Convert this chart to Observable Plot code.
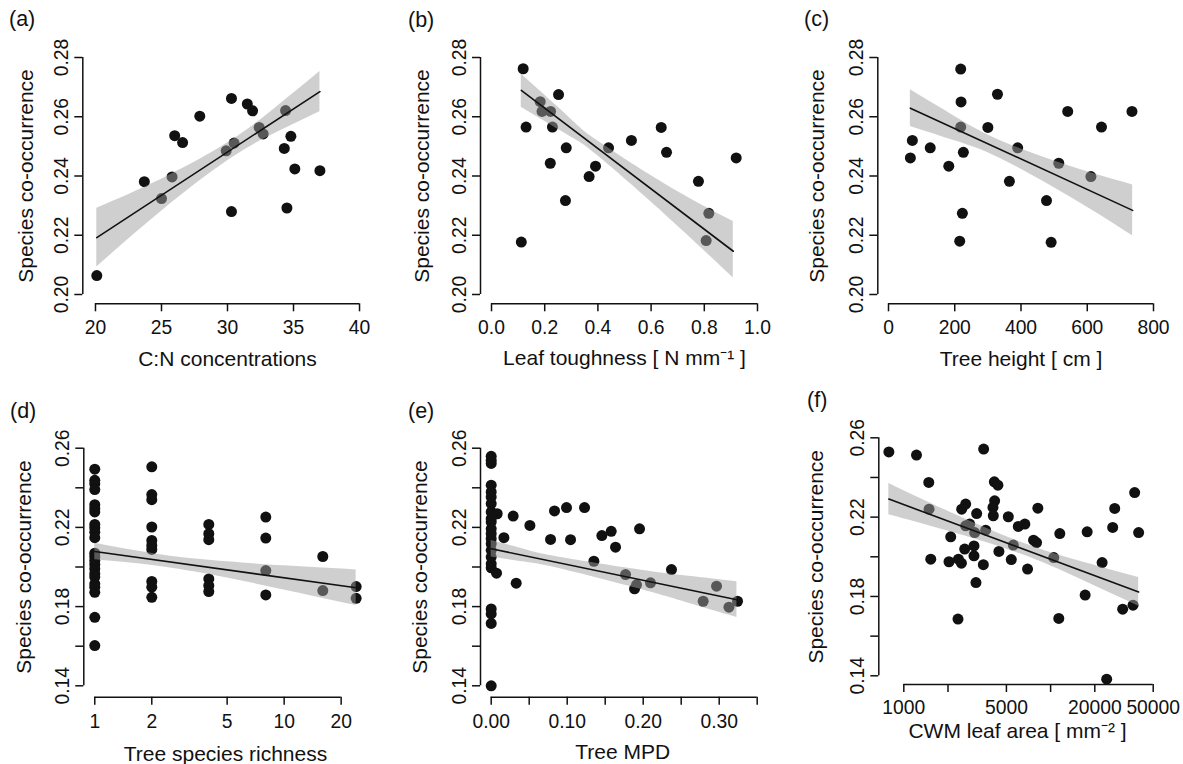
<!DOCTYPE html>
<html><head><meta charset="utf-8">
<script src="https://cdn.jsdelivr.net/npm/d3@7"></script>
<script src="https://cdn.jsdelivr.net/npm/@observablehq/plot@0.6"></script>
<style>
body{margin:0;background:#fff;}
#fig{position:relative;width:1183px;height:764px;background:#fff;font-family:"Liberation Sans",Arial,Helvetica,sans-serif;color:#111;overflow:hidden;}
.panel{position:absolute;}
.tag{position:absolute;font-size:21.5px;line-height:24px;white-space:nowrap;}
</style></head><body><div id="fig"></div>
<script>
// ---------- Panel (a): C:N concentrations ----------
const aX = [20.1, 23.7, 25.0, 25.8, 26.0, 26.6, 27.9, 29.9, 30.3, 30.3, 30.5, 31.5, 31.9, 32.4, 32.7, 34.4, 34.3, 34.8, 34.5, 35.1, 37.0];
const aY = [0.2064, 0.2381, 0.2324, 0.2397, 0.2536, 0.2513, 0.2602, 0.2485, 0.2662, 0.2280, 0.2511, 0.2643, 0.2620, 0.2564, 0.2542, 0.2621, 0.2493, 0.2534, 0.2292, 0.2424, 0.2418];
const aLineX = [20.1, 37.0], aLineY = [0.2192, 0.2685];
const aBandX = [20.1, 25, 30.2, 34, 37.0];
const aBandLo = [0.2093, 0.2281, 0.2457, 0.2553, 0.2617];
const aBandHi = [0.2291, 0.2389, 0.2517, 0.2643, 0.2753];

// ---------- Panel (b): Leaf toughness ----------
const bX = [0.119, 0.112, 0.130, 0.183, 0.190, 0.222, 0.229, 0.221, 0.252, 0.281, 0.278, 0.367, 0.391, 0.440, 0.526, 0.638, 0.658, 0.778, 0.817, 0.807, 0.920];
const bY = [0.2762, 0.2177, 0.2565, 0.2651, 0.2618, 0.2618, 0.2565, 0.2443, 0.2675, 0.2495, 0.2317, 0.2398, 0.2433, 0.2495, 0.2520, 0.2564, 0.2480, 0.2382, 0.2274, 0.2182, 0.2461];
const bLineX = [0.112, 0.909], bLineY = [0.2689, 0.2146];
const bBandX = [0.112, 0.30, 0.40, 0.65, 0.909];
const bBandLo = [0.2632, 0.2531, 0.2468, 0.2272, 0.2056];
const bBandHi = [0.2744, 0.2591, 0.2518, 0.2374, 0.2246];

// ---------- Panel (c): Tree height ----------
const cX = [218, 219, 329, 218, 300, 226, 72, 66, 126, 182, 390, 365, 514, 611, 541, 643, 735, 477, 223, 215, 491];
const cY = [0.2761, 0.2650, 0.2676, 0.2565, 0.2564, 0.2480, 0.2520, 0.2461, 0.2495, 0.2433, 0.2495, 0.2382, 0.2443, 0.2398, 0.2618, 0.2565, 0.2618, 0.2317, 0.2274, 0.2180, 0.2176];
const cLineX = [66, 737], cLineY = [0.2629, 0.2284];
const cBandX = [66, 200, 336, 550, 737];
const cBandLo = [0.2567, 0.2519, 0.2460, 0.2328, 0.2198];
const cBandHi = [0.2691, 0.2601, 0.2520, 0.2432, 0.2370];

// ---------- Panel (d): Tree species richness ----------
const dX = [1,1,1,1,1,1,1,1,1,1,1,1,1,1,1,1,1,1,1,1,1,1,1,
            2,2,2,2,2,2,2,2,2,2,
            4,4,4,4,4,4,
            8,8,8,8,
            16,16,
            24,24];
const dY = [0.2494, 0.2438, 0.2421, 0.2391, 0.2315, 0.2295, 0.2278, 0.2215, 0.2198, 0.2176, 0.2148, 0.2070, 0.2053, 0.2033, 0.2013, 0.1991, 0.1966, 0.1949, 0.1915, 0.1898, 0.1872, 0.1746, 0.1603,
            0.2506, 0.2366, 0.2340, 0.2202, 0.2134, 0.2109, 0.2089, 0.1927, 0.1898, 0.1847,
            0.2215, 0.2168, 0.2138, 0.1940, 0.1906, 0.1876,
            0.2252, 0.2146, 0.1982, 0.1859,
            0.2053, 0.1881,
            0.1901, 0.1842];
const dLineX = [1, 24], dLineY = [0.2078, 0.1895];
const dBandX = [1, 2.26, 5, 10, 24];
const dBandLo = [0.2036, 0.2001, 0.1944, 0.1884, 0.1805];
const dBandHi = [0.2120, 0.2061, 0.2026, 0.2006, 0.1985];

// ---------- Panel (e): Tree MPD ----------
const eX = [0,0,0,0,0,0,0,0,0,0,0,0,0,0,0,0,0,0,0,0,0,0,
            0.0079, 0.0070, 0.0167, 0.0289, 0.0329, 0.0509, 0.0781, 0.0833, 0.0991, 0.1044, 0.1228, 0.1351, 0.1456,
            0.1579, 0.1636, 0.1768, 0.1886, 0.1912, 0.1952, 0.2096, 0.2372, 0.2789, 0.2965, 0.3128, 0.3241];
const eY = [0.2559, 0.2539, 0.2523, 0.2413, 0.2379, 0.2353, 0.2320, 0.2278, 0.2244, 0.2227, 0.2193, 0.2168, 0.2143, 0.2117, 0.2084, 0.2050, 0.2016, 0.1996, 0.1788, 0.1763, 0.1715, 0.1400,
            0.2269, 0.1969, 0.2148, 0.2257, 0.1918, 0.2210, 0.2139, 0.2283, 0.2300, 0.2138, 0.2300, 0.2029, 0.2159,
            0.2180, 0.2100, 0.1962, 0.1890, 0.1910, 0.2193, 0.1920, 0.1987, 0.1827, 0.1903, 0.1797, 0.1827];
const eLineX = [0, 0.3233], eLineY = [0.2092, 0.1835];
const eBandX = [0, 0.04, 0.088, 0.2, 0.26, 0.3233];
const eBandLo = [0.2050, 0.2027, 0.1994, 0.1884, 0.1817, 0.1745];
const eBandHi = [0.2134, 0.2093, 0.2050, 0.1982, 0.1953, 0.1925];

// ---------- Panel (f): CWM leaf area ----------
const fX = [791, 1220, 3499, 1479, 4136, 4375, 37370, 1486, 2479, 2639, 3135, 4156, 4048, 4071, 5150, 6025, 6677, 8185,
            11550, 17740, 26480, 27330, 39780, 2639, 2810, 3039, 3609, 2087, 2598, 3006, 3006, 1526, 2032, 2355, 2468,
            3482, 3101, 2339, 4446, 5397, 5570, 6966, 7650, 8020, 10510, 22430, 17190, 11370, 30970, 36430, 24100];
const fY = [0.2529, 0.2513, 0.2543, 0.2375, 0.2378, 0.2361, 0.2324, 0.2240, 0.2240, 0.2266, 0.2218, 0.2282, 0.2249, 0.2207, 0.2202, 0.2153, 0.2165, 0.2245,
            0.2117, 0.2126, 0.2148, 0.2244, 0.2122, 0.2156, 0.2165, 0.2122, 0.2134, 0.2101, 0.2039, 0.2055, 0.2005, 0.1988, 0.1975, 0.1988, 0.1968,
            0.1960, 0.1870, 0.1686, 0.2027, 0.1986, 0.2059, 0.1938, 0.2084, 0.2072, 0.1996, 0.1971, 0.1807, 0.1689, 0.1736, 0.1756, 0.1383];
const fLineX = [791, 39780], fLineY = [0.2291, 0.1823];
const fBandX = [791, 1995, 6210, 15850, 39780];
const fBandLo = [0.2212, 0.2130, 0.2015, 0.1888, 0.1751];
const fBandHi = [0.2370, 0.2230, 0.2075, 0.1978, 0.1895];

// ---------- Ticks ----------
const yTicksTop = [0.20, 0.22, 0.24, 0.26, 0.28];
const yTicksBottom = [0.14, 0.16, 0.18, 0.20, 0.22, 0.24, 0.26];
const yLabelsBottom = [0.14, 0.18, 0.22, 0.26];
const aTicks = [20, 25, 30, 35, 40];
const bTicks = [0, 0.2, 0.4, 0.6, 0.8, 1.0];
const cTicks = [0, 200, 400, 600, 800];
const dTicks = [1, 2, 5, 10, 20];
const eTicks = [0, 0.05, 0.10, 0.15, 0.20, 0.25, 0.30, 0.35];
const eLabels = [0, 0.10, 0.20, 0.30];
const fTicks = [1000, 2000, 5000, 10000, 20000, 50000];
const fLabels = [1000, 5000, 20000, 50000];

const yTitle = "Species co-occurrence";
const FONT = '"Liberation Sans", Arial, Helvetica, sans-serif';
const INK = "#111";
const TICK_FS = 19.3, TITLE_FS = 21;

const fig = document.getElementById("fig");

function panel(c) {
  const pts = c.xs.map((x, i) => ({x, y: c.ys[i]}));
  const band = c.bandX.map((x, i) => ({x, lo: c.bandLo[i], hi: c.bandHi[i]}));
  const line = c.lineX.map((x, i) => ({x, y: c.lineY[i]}));
  const xt = c.xTicks, yt = c.yTicks;
  const svg = Plot.plot({
    width: c.width, height: c.height,
    marginLeft: c.mL, marginRight: c.mR, marginTop: c.mT, marginBottom: c.mB,
    style: {fontFamily: FONT, fontSize: TICK_FS + "px", color: INK, background: "transparent", overflow: "visible"},
    x: {type: c.xType || "linear", domain: c.xDomain},
    y: {type: "linear", domain: c.yDomain},
    marks: [
      Plot.dot(pts, {x: "x", y: "y", r: 5.5, fill: INK, stroke: "none"}),
      Plot.areaY(band, {x: "x", y1: "lo", y2: "hi", fill: "#a0a0a0", fillOpacity: 0.5, curve: "natural"}),
      Plot.line(line, {x: "x", y: "y", stroke: INK, strokeWidth: 1.6}),
      Plot.ruleX([c.xDomain[0]], {y1: yt[0], y2: yt[yt.length - 1], stroke: INK, strokeWidth: 1.5}),
      Plot.ruleY([c.yDomain[0]], {x1: xt[0], x2: xt[xt.length - 1], stroke: INK, strokeWidth: 1.5}),
      Plot.axisX(xt, {anchor: "bottom", tickSize: 8, fill: "none", label: null, stroke: INK, strokeWidth: 1.5}),
      Plot.axisY(yt, {anchor: "left", tickSize: 8, fill: "none", label: null, stroke: INK, strokeWidth: 1.5}),
      Plot.text(c.xLabels, {x: d => d, frameAnchor: "bottom", dy: c.xTickDy || 24.5, text: c.xFmt, lineAnchor: "middle", fill: INK, fontSize: TICK_FS}),
      Plot.text(c.yLabels, {y: d => d, frameAnchor: "left", dx: -21, rotate: -90, text: d => d3.format(".2f")(d), textAnchor: "middle", lineAnchor: "middle", fill: INK, fontSize: TICK_FS}),
      Plot.text([c.xTitle], {frameAnchor: "bottom", dy: c.xTitleDy, text: d => d, lineAnchor: "middle", fill: INK, fontSize: TITLE_FS}),
      Plot.text([yTitle], {frameAnchor: "left", dx: -c.yTitleDx, rotate: -90, text: d => d, textAnchor: "middle", lineAnchor: "middle", fill: INK, fontSize: TITLE_FS})
    ]
  });
  const wrap = document.createElement("div");
  wrap.className = "panel";
  wrap.style.left = c.left + "px";
  wrap.style.top = c.top + "px";
  wrap.appendChild(svg);
  fig.appendChild(wrap);
  const tag = document.createElement("div");
  tag.className = "tag";
  tag.textContent = c.tag;
  tag.style.left = c.tagX + "px";
  tag.style.top = (c.tagY - 12) + "px";
  fig.appendChild(tag);
}

const fmtInt = d => d3.format("d")(d);

panel({left: 0, top: 0, width: 394, height: 382, mL: 82.3, mR: 22.3, mT: 47.7, mB: 78.7,
  xDomain: [19.04, 40.96], yDomain: [0.19686, 0.28314],
  xs: aX, ys: aY, lineX: aLineX, lineY: aLineY, bandX: aBandX, bandLo: aBandLo, bandHi: aBandHi,
  xTicks: aTicks, xLabels: aTicks, xFmt: fmtInt, yTicks: yTicksTop, yLabels: yTicksTop,
  xTitle: "C:N concentrations", xTitleDy: 55, yTitleDx: 57, tag: "(a)", tagX: 9, tagY: 19});

panel({left: 394, top: 0, width: 394, height: 382, mL: 86, mR: 20, mT: 47.7, mB: 78.7,
  xDomain: [-0.0414, 1.0414], yDomain: [0.19686, 0.28314],
  xs: bX, ys: bY, lineX: bLineX, lineY: bLineY, bandX: bBandX, bandLo: bBandLo, bandHi: bBandHi,
  xTicks: bTicks, xLabels: bTicks, xFmt: d => d3.format(".1f")(d), yTicks: yTicksTop, yLabels: yTicksTop,
  xTitle: "Leaf toughness [ N mm\u207B\u00B9 ]", xTitleDy: 54, yTitleDx: 58, tag: "(b)", tagX: 408, tagY: 20});

panel({left: 788, top: 0, width: 395, height: 382, mL: 89.3, mR: 19.3, mT: 47.7, mB: 78.7,
  xDomain: [-32.3, 832.3], yDomain: [0.19686, 0.28314],
  xs: cX, ys: cY, lineX: cLineX, lineY: cLineY, bandX: cBandX, bandLo: cBandLo, bandHi: cBandHi,
  xTicks: cTicks, xLabels: cTicks, xFmt: fmtInt, yTicks: yTicksTop, yLabels: yTicksTop,
  xTitle: "Tree height [ cm ]", xTitleDy: 55, yTitleDx: 61, tag: "(c)", tagX: 804, tagY: 19});

panel({left: 0, top: 382, width: 394, height: 382, mL: 83.3, mR: 27.4, mT: 54.3, mB: 67.3,
  xType: "log", xDomain: [0.875, 27.42], yDomain: [0.13424, 0.26576],
  xs: dX, ys: dY, lineX: dLineX, lineY: dLineY, bandX: dBandX, bandLo: dBandLo, bandHi: dBandHi,
  xTicks: dTicks, xLabels: dTicks, xFmt: fmtInt, yTicks: yTicksBottom, yLabels: yLabelsBottom,
  xTitle: "Tree species richness", xTitleDy: 57, yTitleDx: 60, tag: "(d)", tagX: 10, tagY: 411});

panel({left: 394, top: 382, width: 394, height: 382, mL: 86, mR: 23.7, mT: 54.3, mB: 67.3,
  xDomain: [-0.01408, 0.36], yDomain: [0.13424, 0.26576],
  xs: eX, ys: eY, lineX: eLineX, lineY: eLineY, bandX: eBandX, bandLo: eBandLo, bandHi: eBandHi,
  xTicks: eTicks, xLabels: eLabels, xFmt: d => d3.format(".2f")(d), yTicks: yTicksBottom, yLabels: yLabelsBottom,
  xTitle: "Tree MPD", xTitleDy: 55, yTitleDx: 60, tag: "(e)", tagX: 408, tagY: 411});

panel({left: 788, top: 382, width: 395, height: 382, mL: 90.3, mR: 27.2, mT: 46.6, mB: 80,
  xType: "log", xDomain: [675.5, 52480], yDomain: [0.13561, 0.26439],
  xs: fX, ys: fY, lineX: fLineX, lineY: fLineY, bandX: fBandX, bandLo: fBandLo, bandHi: fBandHi,
  xTicks: fTicks, xLabels: fLabels, xFmt: fmtInt, yTicks: yTicksBottom, yLabels: yLabelsBottom,
  xTitle: "CWM leaf area [ mm\u207B\u00B2 ]", xTitleDy: 47, xTickDy: 23.5, yTitleDx: 63, tag: "(f)", tagX: 807, tagY: 400});
</script></body></html>
